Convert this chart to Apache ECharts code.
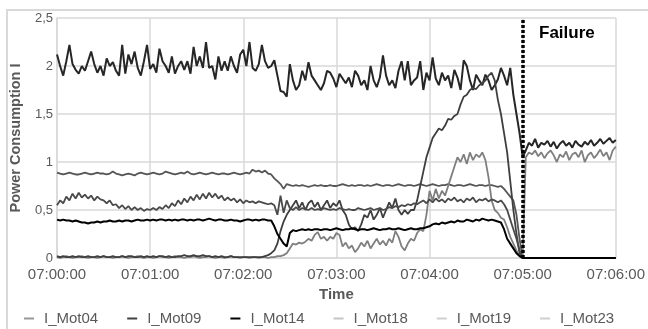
<!DOCTYPE html>
<html>
<head>
<meta charset="utf-8">
<script src="https://cdn.jsdelivr.net/npm/echarts@6/dist/echarts.min.js"></script>
<style>html,body{margin:0;padding:0;background:#fff}#c{width:648px;height:329px}</style>
</head>
<body>
<div id="c"></div>
<script>
// time ticks (minutes) and sampling grid (seconds after 07:00:00, every 2 s)
const timeLabels = ['07:00:00','07:01:00','07:02:00','07:03:00','07:04:00','07:05:00','07:06:00'];
const seconds = Array.from({length:181}, (_, i) => i * 2);
const failureSecond = 300;
const yLabels = ['0','0,5','1','1,5','2','2,5'];
const seriesNames = ['I_Mot04','I_Mot09','I_Mot14','I_Mot18','I_Mot19','I_Mot23'];

const mot04 = [
0.89,0.88,0.87,0.88,0.89,0.88,0.87,0.87,0.88,0.89,
0.88,0.87,0.88,0.89,0.88,0.88,0.87,0.88,0.9,0.88,
0.87,0.86,0.87,0.88,0.87,0.86,0.88,0.89,0.88,0.87,
0.88,0.89,0.88,0.87,0.88,0.9,0.89,0.88,0.87,0.88,
0.89,0.88,0.9,0.88,0.87,0.88,0.89,0.88,0.87,0.88,
0.89,0.88,0.87,0.88,0.88,0.87,0.88,0.89,0.88,0.87,
0.88,0.89,0.88,
0.92,0.9,0.91,0.89,0.91,
0.88,0.87,0.83,0.8,0.77,0.72,0.77,0.76,0.75,
0.76,0.75,0.76,0.75,0.74,0.75,0.76,0.75,0.76,0.75,
0.75,0.76,0.75,0.75,0.76,0.77,0.76,0.75,0.76,0.75,
0.76,0.76,0.75,0.76,0.75,0.76,0.77,0.76,0.75,0.76,
0.76,0.75,0.76,0.77,0.76,0.75,0.76,0.76,0.75,0.76,
0.77,0.76,0.75,0.76,0.77,0.76,0.75,0.76,0.76,0.77,
0.76,0.75,0.76,0.76,0.75,0.76,0.77,0.76,0.75,0.76,
0.76,0.75,0.76,0.76,0.75,0.74,0.75,
0.72,0.68,0.64,0.6,0.45,0.2,0,
0,0,0,0,0,0,0,0,0,0,0,0,0,0,0,0,0,0,0,0,0,0,0,0,0,0,0,0,0,0];

const mot09 = [
2.12,2.0,1.9,2.05,2.22,2.02,1.96,1.92,2.0,1.95,
2.05,2.15,2.02,1.93,2.0,1.9,2.08,2.0,2.04,1.95,
1.9,2.22,1.92,2.12,2.02,2.15,1.98,1.9,2.05,2.22,
1.97,2.02,1.93,2.18,2.05,2.0,1.93,2.1,1.92,2.0,
2.05,1.96,2.05,1.92,2.2,2.0,2.1,1.98,2.25,1.98,
2.0,1.86,2.1,1.95,
2.05,1.95,2.1,2.0,1.93,2.12,2.17,2.0,2.25,1.98,1.95,2.02,2.22,2.05,1.98,2.0,2.06,
1.9,1.74,1.73,1.68,2.02,1.85,1.75,1.8,1.95,1.85,
2.04,1.9,1.85,1.8,1.75,1.82,1.95,1.93,1.87,1.78,1.92,1.87,1.82,1.88,1.78,1.95,1.9,1.8,1.85,1.75,
2.0,1.85,1.78,1.88,2.11,1.9,1.8,1.85,1.77,1.95,2.05,1.85,2.05,1.8,1.85,1.88,2.05,
1.75,1.93,1.85,2.09,1.87,1.8,1.93,1.85,1.9,1.77,1.96,1.88,1.75,2.06,2.0,1.85,1.75,1.91,1.85,1.8,1.91,1.85,1.75,1.8,1.86,1.98,1.9,1.8,1.98,
1.7,1.5,1.3,1.05,
1.12,1.2,1.17,1.24,1.15,1.2,1.18,1.22,1.16,1.21,1.14,1.19,1.22,1.17,1.2,1.15,1.22,1.18,1.16,1.21,1.18,1.23,1.17,1.2,1.24,1.19,1.22,1.25,1.2,1.23];

const mot14 = [
0.4,0.39,0.4,0.39,0.39,0.38,0.39,0.38,0.37,0.37,
0.36,0.37,0.37,0.38,0.37,0.38,0.38,0.39,0.38,0.38,
0.39,0.38,0.39,0.39,0.38,0.39,0.4,0.39,0.39,0.4,
0.39,0.4,0.39,0.4,0.4,0.39,0.4,0.39,0.4,0.39,
0.4,0.4,0.39,0.4,0.39,0.4,0.4,0.39,0.4,0.41,
0.4,0.39,0.4,0.4,0.39,0.39,0.4,0.39,0.39,0.38,
0.39,0.4,0.4,0.39,0.4,0.39,0.4,0.4,0.39,
0.39,0.33,0.25,0.2,0.15,0.12,0.26,0.29,
0.28,0.29,0.3,0.29,0.3,0.29,0.3,0.3,0.29,0.3,
0.3,0.29,0.3,0.31,0.3,0.29,0.3,0.3,0.31,0.3,
0.29,0.3,0.3,0.29,0.3,0.31,0.3,0.29,0.3,0.3,
0.31,0.3,0.3,0.31,0.3,0.29,0.3,0.31,0.3,0.3,
0.31,
0.31,0.32,0.33,0.35,0.36,0.35,0.37,0.36,0.37,0.38,0.37,0.39,0.38,0.38,0.4,0.39,0.38,0.4,0.39,0.41,0.4,0.39,0.4,0.39,0.38,0.37,
0.3,0.2,0.15,0.1,0.05,0.02,0,
0,0,0,0,0,0,0,0,0,0,0,0,0,0,0,0,0,0,0,0,0,0,0,0,0,0,0,0,0,0];

const mot18 = [
0.01,0.0,0.01,0.02,0.01,0.0,0.01,0.01,0.02,0.01,
0.0,0.01,0.01,0.0,0.01,0.02,0.01,0.01,0.0,0.01,
0.01,0.02,0.01,0.0,0.01,0.01,0.02,0.01,0.0,0.01,
0.01,0.0,0.01,0.02,0.01,0.01,0.0,0.01,0.02,0.01,
0.01,0.0,0.01,0.01,0.02,0.01,0.0,0.01,0.01,0.02,
0.01,0.0,0.01,0.01,0.0,0.01,0.02,0.01,0.01,0.0,
0.01,0.01,0.0,0.01,0.01,0.0,0.01,0.01,0.0,0.01,
0.01,0.02,0.02,0.03,
0.05,0.1,0.15,0.14,0.16,0.15,0.17,0.2,0.18,0.24,
0.27,0.2,0.22,0.18,0.22,0.2,0.26,0.24,0.12,0.16,
0.1,0.13,0.06,0.1,0.16,0.12,0.18,0.1,0.15,0.2,
0.14,0.18,0.13,0.2,0.16,0.28,0.22,0.12,0.08,0.15,
0.2,0.18,0.26,0.3,0.28,0.45,0.7,0.6,0.72,0.62,
0.7,0.65,0.75,0.85,0.95,1.05,1.0,1.08,0.98,1.1,
1.02,1.08,1.05,1.1,1.02,0.84,0.6,0.5,0.47,0.42,
0.4,0.32,0.22,0.15,0.08,0.02,0,
1.05,1.1,1.08,1.12,1.06,1.1,1.04,1.09,1.12,1.07,1.0,1.08,1.05,1.11,1.02,1.08,1.1,1.05,1.12,1.0,1.07,1.1,1.04,1.08,1.13,1.06,1.1,1.02,1.12,1.16];

const mot19 = [
0.02,0.01,0.02,0.01,0.01,0.02,0.01,0.02,0.01,0.01,
0.02,0.01,0.01,0.02,0.01,0.02,0.01,0.01,0.02,0.01,
0.01,0.02,0.01,0.02,0.02,0.01,0.01,0.02,0.01,0.02,
0.01,0.02,0.01,0.02,0.02,0.01,0.02,0.01,0.01,0.02,
0.02,0.03,0.02,0.02,0.03,0.02,0.02,0.03,0.02,0.02,
0.01,0.02,0.01,0.02,0.01,0.01,0.02,0.01,0.01,0.01,
0.01,0.01,0.01,0.01,0.01,0.01,0.01,0.02,0.03,0.05,
0.08,
0.15,0.28,0.38,0.45,0.5,
0.55,0.6,0.52,0.58,0.5,0.57,0.6,0.53,0.58,0.5,0.55,0.6,0.52,0.57,0.54,0.6,0.5,0.45,
0.35,0.3,0.32,0.28,0.35,0.45,0.42,0.5,0.4,0.45,0.52,0.42,0.5,0.58,0.52,0.62,0.5,0.45,0.5,0.46,0.5,
0.5,0.6,0.75,0.9,1.05,1.15,1.25,1.3,1.35,1.33,1.38,1.45,1.44,1.48,1.5,1.6,1.68,1.7,1.75,1.77,1.76,1.8,1.82,1.85,1.9,1.93,1.85,1.65,1.5,1.3,1.1,0.8,0.5,0.25,0.05,0,
0,0,0,0,0,0,0,0,0,0,0,0,0,0,0,0,0,0,0,0,0,0,0,0,0,0,0,0,0,0];

const mot23 = [
0.55,0.6,0.57,0.64,0.6,0.67,0.62,0.68,0.63,0.66,
0.62,0.65,0.6,0.64,0.61,0.6,0.57,0.6,0.55,0.56,
0.52,0.55,0.51,0.54,0.5,0.53,0.5,0.52,0.49,0.51,
0.5,0.52,0.5,0.53,0.51,0.55,0.52,0.57,0.54,0.6,
0.56,0.62,0.58,0.64,0.6,0.66,0.61,0.67,0.62,0.68,
0.63,0.67,0.62,0.65,0.6,0.63,0.6,0.62,0.58,0.61,
0.57,0.6,0.58,0.59,0.57,0.59,0.58,0.57,0.56,0.57,
0.55,0.45,0.65,0.47,0.6,0.52,0.5,0.53,0.5,0.52,
0.51,0.5,0.52,0.5,0.51,0.5,0.52,0.51,0.5,0.51,
0.5,0.52,0.51,0.5,0.51,0.5,0.5,0.52,0.51,0.5,
0.51,0.52,0.5,0.51,0.52,0.5,0.51,0.53,0.52,0.54,
0.53,0.55,0.54,0.56,
0.55,0.57,0.56,0.58,0.6,0.57,0.61,0.58,0.62,0.59,0.61,0.58,0.62,0.6,0.63,0.59,0.61,0.58,0.62,0.6,0.63,0.58,0.61,0.6,0.62,0.59,0.61,0.6,0.58,0.6,
0.56,0.5,0.4,0.3,0.2,0.08,0,
0,0,0,0,0,0,0,0,0,0,0,0,0,0,0,0,0,0,0,0,0,0,0,0,0,0,0,0,0,0];

const seriesValues = [mot04, mot09, mot14, mot18, mot19, mot23];
const lineColors = ['#555555', '#262626', '#000000', '#7f7f7f', '#3f3f3f', '#4a4a4a'];
const legendColors = ['#999999', '#404040', '#000000', '#c4c4c4', '#cfcfcf', '#cfcfcf'];
const lineWidths = [1.8, 2, 2, 1.8, 1.8, 1.8];
const zOrder = [3, 3, 5, 3, 3, 3];

const FONT = '"Liberation Sans", Arial, sans-serif';
const chart = echarts.init(document.getElementById('c'), null, {renderer: 'canvas'});

const series = seriesNames.map((name, k) => ({
  name: name,
  type: 'line',
  data: seconds.map((s, i) => [s, seriesValues[k][i]]),
  showSymbol: false,
  symbol: 'none',
  z: zOrder[k],
  lineStyle: {color: lineColors[k], width: lineWidths[k]},
  itemStyle: {color: lineColors[k]},
  emphasis: {disabled: true}
}));
series[2].markLine = {
  silent: true,
  symbol: 'none',
  animation: false,
  label: {show: false},
  lineStyle: {color: '#000', width: 3.5, type: [3, 2]},
  data: [{xAxis: failureSecond}]
};

chart.setOption({
  animation: false,
  backgroundColor: '#fff',
  grid: {left: 53, right: 21, top: 18, bottom: 71, containLabel: false},
  xAxis: {
    type: 'value', min: 0, max: 360, interval: 60,
    name: 'Time', nameLocation: 'middle', nameGap: 26,
    nameTextStyle: {fontFamily: FONT, fontSize: 15, fontWeight: 'bold', color: '#595959'},
    axisLine: {show: true, lineStyle: {color: '#d9d9d9', width: 1.5}},
    axisTick: {show: false},
    splitLine: {show: true, lineStyle: {color: '#d9d9d9', width: 1.5}},
    axisLabel: {fontFamily: FONT, fontSize: 15, color: '#595959', margin: 9,
      formatter: v => timeLabels[Math.round(v / 60)]}
  },
  yAxis: {
    type: 'value', min: 0, max: 2.5, interval: 0.5,
    name: 'Power Consumption I', nameLocation: 'middle', nameGap: 34, nameRotate: 90,
    nameTextStyle: {fontFamily: FONT, fontSize: 14.5, fontWeight: 'bold', color: '#595959'},
    axisLine: {show: true, lineStyle: {color: '#d9d9d9', width: 1.5}},
    axisTick: {show: false},
    splitLine: {show: true, lineStyle: {color: '#d9d9d9', width: 1.5}},
    axisLabel: {fontFamily: FONT, fontSize: 13, color: '#595959', margin: 4,
      formatter: v => yLabels[Math.round(v / 0.5)]}
  },
  legend: {
    left: 19, top: 306, icon: 'rect', itemWidth: 10, itemHeight: 2, itemGap: 29,
    textStyle: {fontFamily: FONT, fontSize: 15, color: '#595959', padding: [0, 0, 0, 5]},
    data: seriesNames.map((n, k) => ({name: n, itemStyle: {color: legendColors[k]}}))
  },
  graphic: [
    {type: 'rect', silent: true, shape: {x: 7, y: 10, width: 700, height: 400},
     style: {fill: 'none', stroke: '#d9d9d9', lineWidth: 2}},
    {type: 'text', left: 539, top: 25, silent: true,
     style: {text: 'Failure', font: 'bold 17px ' + FONT, fill: '#000'}}
  ],
  series: series
});
</script>
</body>
</html>
